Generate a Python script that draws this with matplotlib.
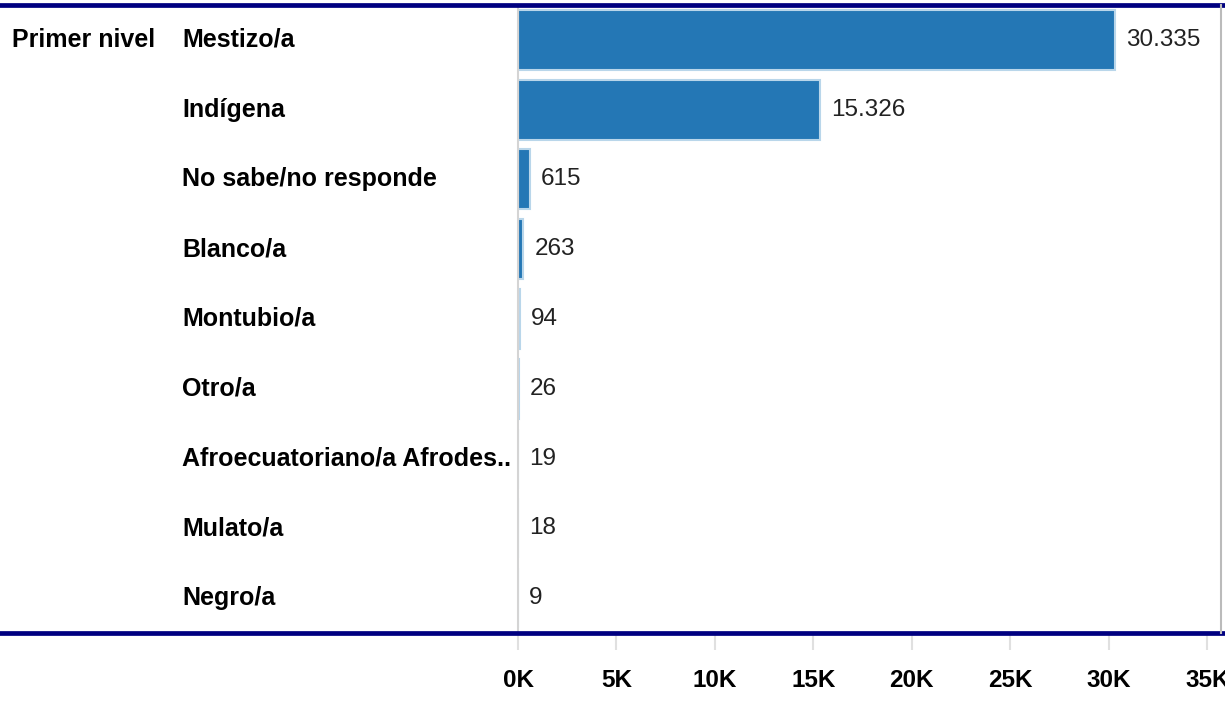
import matplotlib
matplotlib.use("Agg")
import matplotlib.pyplot as plt
from matplotlib.lines import Line2D
from matplotlib.ticker import FuncFormatter

# ----------------------------------------------------------------------
GROUP = "Primer nivel"
CATEGORIES = ["Mestizo/a", "Indígena", "No sabe/no responde", "Blanco/a",
              "Montubio/a", "Otro/a", "Afroecuatoriano/a Afrodes..",
              "Mulato/a", "Negro/a"]
VALUES = [30335, 15326, 615, 263, 94, 26, 19, 18, 9]
XTICKS = [0, 5000, 10000, 15000, 20000, 25000, 30000, 35000]

BAR_COLOR = "#2477b5"
EDGE_COLOR = "#b9d6ea"
NAVY = "#000080"
GRID_GRAY = "#d4d4d4"

plt.rcParams["font.family"] = ["Liberation Sans", "DejaVu Sans"]

W, H = 1225, 702
PT = 72 / 100  # pixels -> points at dpi 100
fig = plt.figure(figsize=(W / 100, H / 100), dpi=100)
ax = fig.add_axes([518 / W, (H - 633) / H, (W - 518) / W, 628 / H])

ypos = list(range(len(CATEGORIES)))
ax.barh(ypos, VALUES, height=0.86, color=BAR_COLOR,
        edgecolor=EDGE_COLOR, linewidth=1.5)
ax.set_ylim(len(CATEGORIES) - 0.5, -0.5)
ax.set_xlim(0, 35900)

# value labels
for y, v in zip(ypos, VALUES):
    ax.annotate(f"{v:,}".replace(",", "."), (v, y), xytext=(8, 0),
                textcoords="offset points", va="center", ha="left",
                fontsize=17.5, color="#222222")

# category labels + row header
for y, c in zip(ypos, CATEGORIES):
    ax.annotate(c, (0, y), xycoords=("figure fraction", "data"),
                xytext=(182 * PT, 0), textcoords="offset points",
                va="center", ha="left", fontsize=18, fontweight="bold")
ax.annotate(GROUP, (0, 0), xycoords=("figure fraction", "data"),
            xytext=(12 * PT, 0), textcoords="offset points",
            va="center", ha="left", fontsize=18, fontweight="bold")

ax.set_yticks([])
for s in ("top", "right", "bottom"):
    ax.spines[s].set_visible(False)
ax.spines["left"].set_color(GRID_GRAY)
ax.spines["left"].set_linewidth(1.5)

ax.set_xticks(XTICKS)
ax.xaxis.set_major_formatter(FuncFormatter(lambda x, p: f"{int(x / 1000)}K"))
ax.tick_params(axis="x", length=12, width=1.5, color="#e0e0e0", pad=14,
               labelsize=17.5)
for t in ax.get_xticklabels():
    t.set_fontweight("bold")

# navy frame lines
for yy in (5, 633):
    fig.add_artist(Line2D([0, 1], [(H - yy) / H] * 2, color=NAVY, lw=3.4,
                          transform=fig.transFigure))
fig.add_artist(Line2D([1221 / W] * 2, [(H - 5) / H, (H - 633) / H],
                      color="#bbbbbb", lw=1.5, transform=fig.transFigure))

fig.savefig("out.png", dpi=100)
